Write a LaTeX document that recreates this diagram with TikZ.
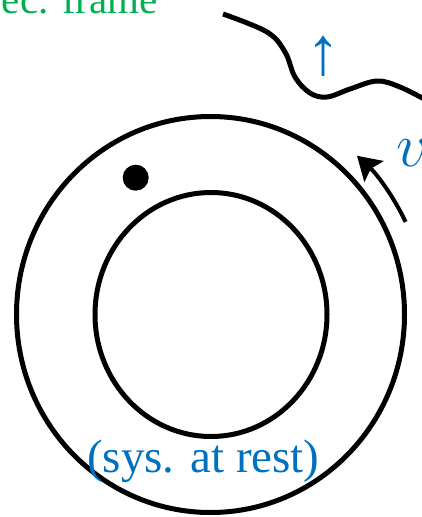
\documentclass[tikz,border=0pt]{standalone}
\usepackage{fontspec}
\setmainfont{Liberation Serif}
\usepackage{xcolor}
\usetikzlibrary{arrows.meta, positioning, calc}

\definecolor{frmgreen}{RGB}{0,176,80}
\definecolor{sysblue}{RGB}{0,112,192}

\begin{document}
\begin{tikzpicture}[
    x=1pt, y=-1pt,
    ring/.style={draw, line width=5pt},
    lbl/.style={inner sep=0pt, font=\fontsize{47}{50}\selectfont},
    arr/.style={-{Stealth[length=23pt, width=28pt, inset=4pt]}, line width=4pt}
]
\useasboundingbox (0,0) rectangle (422,517);
\clip (0,0) rectangle (422,517);

% frame label (cut off at top)
\node[lbl, text=frmgreen, anchor=base east, font=\fontsize{41}{44}\selectfont] (frm) at (158,13) {Spec. frame};

% wavy surface
\draw[line width=5pt] plot[smooth, tension=0.6] coordinates {(223,14) (267,32) (285,52) (295,77) (310,93) (327,97) (350,89) (377,81) (400,87) (426,100)};
\node[lbl, text=sysblue, font=\fontsize{68}{70}\selectfont] (up) at (323,56) {↑};

% rings
\coordinate (c) at (210.5,314.5);
\draw[ring] (c) ellipse[x radius=194, y radius=198];
\draw[ring] (211,314.5) ellipse[x radius=116, y radius=122];
\fill (135.7,177.7) circle[radius=13];

% velocity arrow
\draw[arr] ($(c)+(-25.4:216)$) arc[start angle=-25.4, end angle=-47.3, radius=216];
\node[lbl, text=sysblue, anchor=base west] (v) at (396,166) {\scalebox{2.5}{$v$}};

% system label
\node[lbl, text=sysblue, anchor=base west] (sys) at (87,472) {(sys. at rest)};

\end{tikzpicture}
\end{document}
